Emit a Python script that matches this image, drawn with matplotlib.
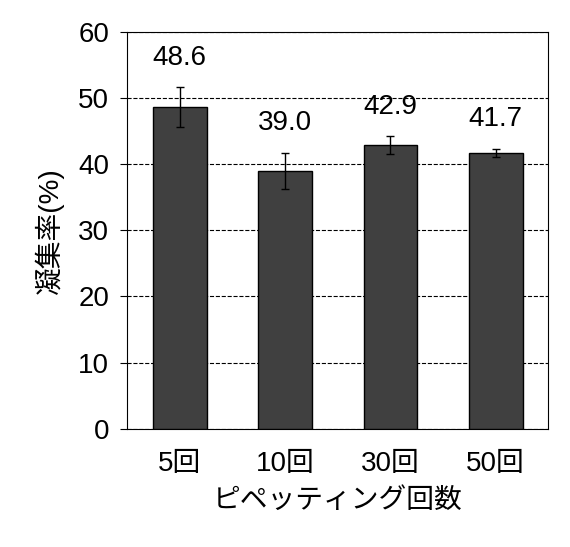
import matplotlib
matplotlib.use("Agg")
import matplotlib.pyplot as plt

plt.rcParams['font.family'] = ['Liberation Sans', 'Noto Sans CJK JP', 'DejaVu Sans']

categories = ["5回", "10回", "30回", "50回"]
values = [48.6, 39.0, 42.9, 41.7]
errors = [3.0, 2.7, 1.3, 0.6]
yticks = [0, 10, 20, 30, 40, 50, 60]

fig = plt.figure(figsize=(5.7, 5.47), dpi=100)
ax = fig.add_axes([0.223, 0.216, 0.739, 0.726])

x = range(len(categories))
ax.bar(x, values, width=0.51, color="#404040", edgecolor="black", linewidth=1, zorder=3)
ax.errorbar(x, values, yerr=errors, fmt="none", ecolor="black", elinewidth=1, capsize=3, zorder=4)
for xi, v, e in zip(x, values, errors):
    ax.text(xi, v + e + 2.5, f"{v:.1f}", ha="center", va="bottom", fontsize=20)

ax.set_ylim(0, 60)
ax.set_xlim(-0.5, 3.5)
ax.set_yticks(yticks)
ax.yaxis.grid(True, linestyle="--", color="black", linewidth=0.8, zorder=0)
ax.set_xticks(list(x))
ax.set_xticklabels(categories)
ax.tick_params(axis="x", length=0, labelsize=20, pad=16)
ax.tick_params(axis="y", labelsize=20, direction="out", length=5, pad=8)
for s in ax.spines.values():
    s.set_linewidth(0.8)
ax.set_ylabel("凝集率(%)", fontsize=20, labelpad=10)
ax.set_xlabel("ピペッティング回数", fontsize=20, labelpad=8)

fig.savefig("out.png", dpi=100)
